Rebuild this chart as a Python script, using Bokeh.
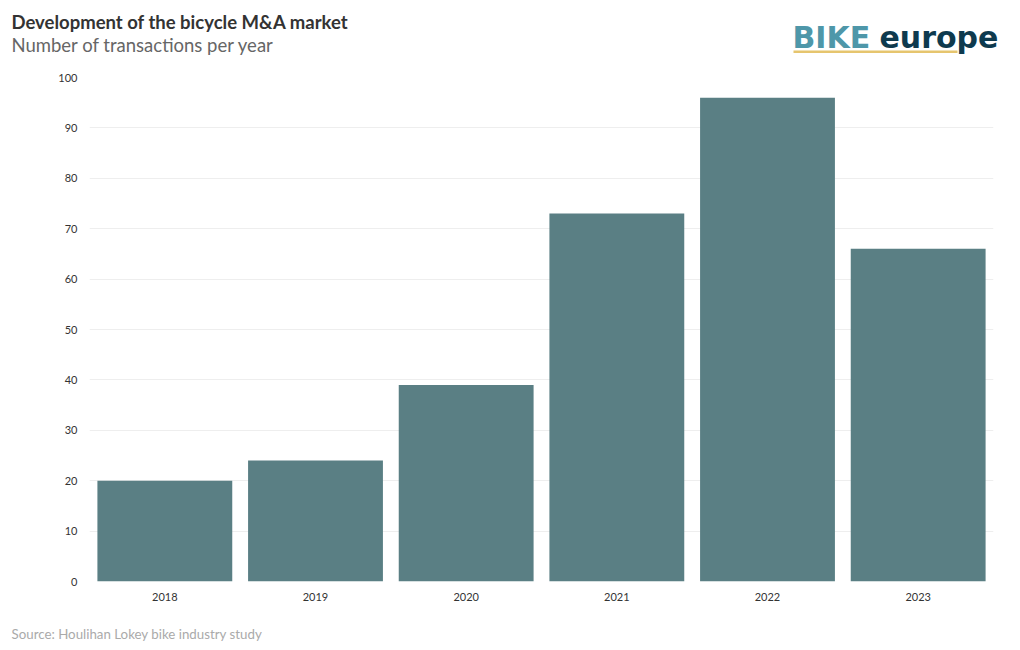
from bokeh.plotting import figure
from bokeh.models import FactorRange
from bokeh.layouts import column, row
from bokeh.core.properties import value
from bokeh.embed import file_html
from bokeh.resources import INLINE

years = ["2018", "2019", "2020", "2021", "2022", "2023"]
transactions = [20, 24, 39, 73, 96, 66]
y_ticks = [0, 10, 20, 30, 40, 50, 60, 70, 80, 90, 100]

title_text = "Development of the bicycle M&A market"
subtitle_text = "Number of transactions per year"
source_text = "Source: Houlihan Lokey bike industry study"
logo_a, logo_b = "BIKE", "europe"

W = 1012
HEAD_H, MAIN_H, FOOT_H = 70, 542, 30
FONT = "Lato"


def blank(h, y0):
    f = figure(width=W, height=h, x_range=(0, W), y_range=(y0 + h, y0),
               output_backend="svg", toolbar_location=None,
               x_axis_type=None, y_axis_type=None,
               min_border=0, min_border_left=0, min_border_right=0,
               min_border_top=0, min_border_bottom=0)
    f.outline_line_color = None
    f.xgrid.visible = False
    f.ygrid.visible = False
    f.border_fill_color = "white"
    f.background_fill_color = "white"
    return f


# header
head = blank(HEAD_H, 0)
head.text(x=[11], y=[21.5], text=[title_text], text_font=value(FONT), text_font_size="18.5px",
          text_font_style="bold", text_color="#333333", text_baseline="alphabetic")
head.text(x=[11], y=[44.5], text=[subtitle_text], text_font=value(FONT), text_font_size="18.5px",
          text_color="#666666", text_baseline="alphabetic")
head.text(x=[792], y=[36.5], text=[logo_a], text_font=value("DejaVu Sans"), text_font_size="30px",
          text_font_style="bold", text_color="#4e97a9", text_baseline="alphabetic")
head.text(x=[879], y=[36.5], text=[logo_b], text_font=value("DejaVu Sans"), text_font_size="30px",
          text_font_style="bold", text_color="#0e3a4e", text_baseline="alphabetic")
head.segment(x0=[793], y0=[51.3], x1=[957], y1=[51.3], line_color="#e6c56e", line_width=2.5)

# main chart
FL, FR = 89, 993
main = figure(x_range=FactorRange(*years, range_padding=0), y_range=(0, 100),
              width=W, height=MAIN_H, output_backend="svg", toolbar_location=None,
              min_border_left=FL, min_border_right=W - FR, min_border_top=7,
              min_border_bottom=31)
main.outline_line_color = None
main.background_fill_color = "white"
main.border_fill_color = "white"
main.vbar(x=years, top=transactions, width=0.895, color="#5a7f84", line_color=None)

main.yaxis.ticker = y_ticks
main.yaxis.axis_line_color = None
main.yaxis.major_tick_line_color = None
main.yaxis.minor_tick_line_color = None
main.yaxis.major_label_text_font = FONT
main.yaxis.major_label_text_font_size = "11px"
main.yaxis.major_label_text_color = "#333333"
main.yaxis.major_label_standoff = 6
main.xaxis.axis_line_color = None
main.xaxis.major_tick_line_color = None
main.xaxis.major_label_text_font = FONT
main.xaxis.major_label_text_font_size = "11px"
main.xaxis.major_label_text_color = "#333333"
main.xaxis.major_label_standoff = 5
main.xgrid.grid_line_color = None
main.ygrid.grid_line_color = "#eeeeee"
main.ygrid.grid_line_width = 1

# footer
foot = blank(FOOT_H, HEAD_H + MAIN_H)
foot.text(x=[11], y=[633.5], text=[source_text], text_font=value(FONT), text_font_size="13.3px",
          text_color="#aaaaaa", text_baseline="alphabetic")

layout = column(row(head), row(main), row(foot), spacing=0)
open("out.html", "w").write(file_html(layout, INLINE))
